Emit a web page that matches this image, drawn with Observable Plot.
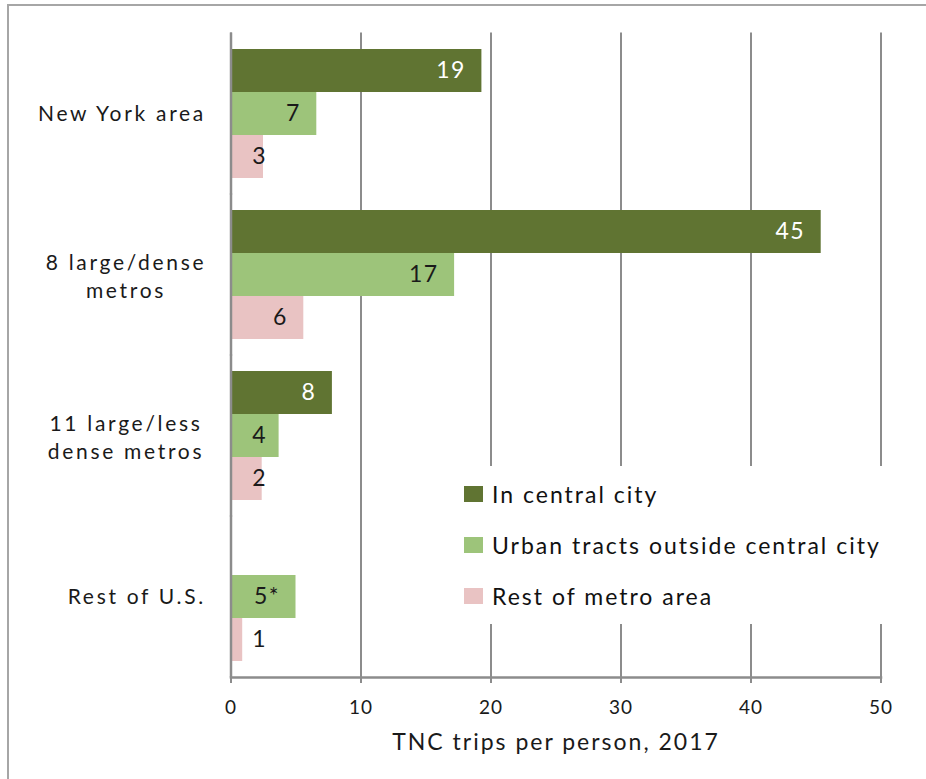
<!DOCTYPE html>
<html><head><meta charset="utf-8">
<script src="https://cdn.jsdelivr.net/npm/d3@7"></script>
<script src="https://cdn.jsdelivr.net/npm/@observablehq/plot@0.6"></script>
<style>
html,body{margin:0;padding:0;background:#fff;font-family:Lato,sans-serif;overflow:hidden;width:926px;height:779px;}
#wrap{position:relative;width:926px;height:779px;overflow:hidden;background:#fff;}
#frameTop{position:absolute;left:7px;top:4px;width:919px;height:2px;background:#a6a6a6;}
#frameLeft{position:absolute;left:7px;top:4px;height:775px;width:2px;background:#a6a6a6;}
#legend{position:absolute;left:452px;top:466px;width:460px;height:158px;background:#fff;}
.row{position:absolute;left:0;height:30px;display:flex;align-items:center;}
.sw{width:19px;height:16px;margin-left:12px;margin-right:9px;}
.lt{font-size:23px;letter-spacing:2px;color:#111;white-space:nowrap;}
#chart{position:absolute;left:0;top:0;}
#chart svg{display:block;}
#chart svg g[aria-description="catlabels"] text{letter-spacing:2.7px;}
#chart svg g[aria-description="barlabels"] text{letter-spacing:1.5px;}
#chart svg g[aria-label="x-axis tick label"] text{letter-spacing:1px;}
#chart svg g[aria-description="title"] text{letter-spacing:2px;}
</style></head>
<body><div id="wrap"><div id="chart"></div><div id="frameTop"></div><div id="frameLeft"></div><div id="legend"></div></div>
<script>
const categories = ["New York area", "8 large/dense metros", "11 large/less dense metros", "Rest of U.S."];
const categoryLabels = ["New York area", "8 large/dense\nmetros", "11 large/less\ndense metros", "Rest of U.S."];
const series = ["In central city", "Urban tracts outside central city", "Rest of metro area"];
const colors = ["#607432", "#9DC47A", "#E9C3C3"];
const centralCity = [19.3, 45.4, 7.8, null];
const urbanTracts = [6.6, 17.2, 3.7, 5.0];
const restOfMetro = [2.5, 5.6, 2.4, 0.9];
const centralLabels = ["19", "45", "8", ""];
const urbanLabels = ["7", "17", "4", "5*"];
const restLabels = ["3", "6", "2", "1"];
const xTicks = [0, 10, 20, 30, 40, 50];
const axisTitle = "TNC trips per person, 2017";

const valueSets = [centralCity, urbanTracts, restOfMetro];
const labelSets = [centralLabels, urbanLabels, restLabels];
const rows = [];
categories.forEach((cat, i) => {
  series.forEach((s, j) => {
    const v = valueSets[j][i];
    if (v != null) rows.push({cat, series: s, value: v, label: labelSets[j][i]});
  });
});
const catRows = categories.map((cat, i) => ({cat, label: categoryLabels[i]}));
const gray = "#8c8c8c";

const chart = Plot.plot({
  width: 926, height: 779,
  marginLeft: 230.5, marginRight: 45.5, marginTop: 33, marginBottom: 102,
  style: {fontFamily: "Lato, sans-serif", background: "transparent", color: "#1a1a1a"},
  x: {domain: [0, 50]},
  y: {domain: series, padding: 0, axis: null},
  fy: {domain: categories, paddingInner: 0.186, paddingOuter: 0.093, axis: null, label: null},
  color: {domain: series, range: colors},
  marks: [
    Plot.ruleX(xTicks, {stroke: gray, strokeWidth: 2, insetTop: -15.5, insetBottom: -15.5}),
    Plot.barX(rows, {fy: "cat", y: "series", x: "value", fill: "series"}),
    Plot.ruleX([0], {stroke: gray, strokeWidth: 2.5, insetTop: -15.5, insetBottom: -15.5}),
    Plot.frame({anchor: "bottom", facet: "super", stroke: gray, strokeWidth: 2.5, dy: 15}),
    Plot.axisX(xTicks, {anchor: "bottom", tickSize: 6, tickPadding: 17, dy: 15, stroke: gray, strokeWidth: 2, fill: "#1a1a1a", fontSize: 19, label: null, tickFormat: d => d}),
    Plot.text(rows.filter(d => d.series === series[0]), {fy: "cat", y: "series", x: d => Math.max(d.value, 4.0), text: "label", textAnchor: "end", dx: -16, fill: "white", fontSize: 23, ariaDescription: "barlabels"}),
    Plot.text(rows.filter(d => d.series !== series[0]), {fy: "cat", y: "series", x: d => Math.max(d.value, 4.0), text: "label", textAnchor: "end", dx: -16, fill: "#1a1a1a", fontSize: 23, ariaDescription: "barlabels"}),
    Plot.text(catRows.filter(d => !d.label.includes("\n")), {fy: "cat", text: "label", frameAnchor: "left", textAnchor: "end", dx: -25, fontSize: 21, fill: "#1a1a1a", ariaDescription: "catlabels"}),
    Plot.text(catRows.filter(d => d.label.includes("\n")), {fy: "cat", text: "label", frameAnchor: "left", textAnchor: "middle", dx: -105, fontSize: 21, lineHeight: 1.33, fill: "#1a1a1a", ariaDescription: "catlabels"}),
    Plot.text([axisTitle], {facet: "super", frameAnchor: "bottom", lineAnchor: "middle", dy: 80, fontSize: 23, fill: "#1a1a1a", ariaDescription: "title"})
  ]
});
document.getElementById("chart").appendChild(chart);

const legend = document.getElementById("legend");
const rowCenters = [28, 79, 130];
series.forEach((s, i) => {
  const r = document.createElement("div");
  r.className = "row";
  r.style.top = (rowCenters[i] - 15) + "px";
  r.innerHTML = `<div class="sw" style="background:${colors[i]}"></div><span class="lt">${s}</span>`;
  legend.appendChild(r);
});
</script>
</body></html>
